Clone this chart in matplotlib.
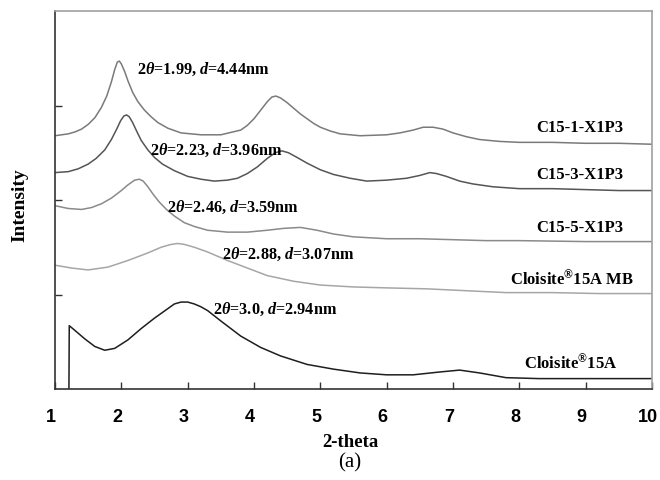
import matplotlib
matplotlib.use("Agg")
import matplotlib.pyplot as plt
import matplotlib.transforms as mtransforms

plt.rcParams['font.family'] = 'Liberation Serif'
plt.rcParams['font.weight'] = 'bold'
plt.rcParams['mathtext.fontset'] = 'custom'
plt.rcParams['mathtext.rm'] = 'Liberation Serif:bold'
plt.rcParams['mathtext.it'] = 'Liberation Serif:italic:bold'
plt.rcParams['mathtext.bf'] = 'Liberation Serif:bold'

# C15-1-X1P3
x1 = [1.0, 1.1, 1.2, 1.3, 1.4, 1.5, 1.6, 1.7, 1.78, 1.85, 1.9, 1.94, 1.97, 2.0, 2.05, 2.1,
      2.17, 2.25, 2.35, 2.45, 2.55, 2.7, 2.9, 3.2, 3.5, 3.8, 3.9, 4.0, 4.1, 4.2, 4.27, 4.33,
      4.4, 4.5, 4.6, 4.7, 4.8, 4.9, 5.0, 5.15, 5.3, 5.6, 6.0, 6.2, 6.4, 6.55, 6.7, 6.85,
      7.0, 7.2, 7.4, 7.7, 8.0, 8.5, 9.0, 9.5, 10.0]
y1 = [2.68, 2.69, 2.70, 2.72, 2.75, 2.80, 2.87, 2.98, 3.10, 3.25, 3.38, 3.46, 3.47, 3.44, 3.36, 3.26,
      3.14, 3.04, 2.95, 2.88, 2.82, 2.76, 2.71, 2.69, 2.69, 2.74, 2.79, 2.86, 2.95, 3.04, 3.09, 3.10,
      3.08, 3.03, 2.97, 2.91, 2.86, 2.81, 2.77, 2.73, 2.70, 2.68, 2.69, 2.71, 2.74, 2.77, 2.77, 2.75,
      2.71, 2.67, 2.64, 2.62, 2.61, 2.61, 2.60, 2.60, 2.59]

# C15-3-X1P3
x2 = [1.0, 1.2, 1.35, 1.5, 1.62, 1.75, 1.85, 1.93, 1.99, 2.04, 2.08, 2.12, 2.17, 2.23, 2.3, 2.4,
      2.5, 2.62, 2.8, 3.0, 3.2, 3.4, 3.6, 3.75, 3.9, 4.05, 4.2, 4.32, 4.42, 4.52, 4.65, 4.8,
      5.0, 5.2, 5.45, 5.7, 6.0, 6.3, 6.5, 6.65, 6.75, 6.9, 7.1, 7.3, 7.6, 8.0, 8.5, 9.0,
      9.5, 10.0]
y2 = [2.29, 2.30, 2.33, 2.38, 2.44, 2.53, 2.64, 2.75, 2.84, 2.89, 2.90, 2.88, 2.82, 2.73, 2.63, 2.53,
      2.45, 2.38, 2.31, 2.25, 2.22, 2.20, 2.21, 2.23, 2.28, 2.35, 2.44, 2.50, 2.52, 2.50, 2.45, 2.39,
      2.32, 2.27, 2.23, 2.20, 2.21, 2.23, 2.26, 2.29, 2.28, 2.25, 2.20, 2.17, 2.14, 2.12, 2.12, 2.11,
      2.10, 2.10]

# C15-5-X1P3
x3 = [1.0, 1.2, 1.4, 1.55, 1.7, 1.85, 2.0, 2.1, 2.2, 2.27, 2.33, 2.4, 2.48, 2.57, 2.68, 2.8,
      2.95, 3.1, 3.3, 3.6, 3.9, 4.2, 4.45, 4.7, 4.95, 5.2, 5.5, 6.0, 6.5, 7.0, 7.5, 8.0,
      9.0, 10.0]
y3 = [1.94, 1.91, 1.90, 1.92, 1.96, 2.02, 2.10, 2.16, 2.21, 2.22, 2.20, 2.14, 2.06, 1.98, 1.90, 1.83,
      1.76, 1.72, 1.68, 1.66, 1.66, 1.68, 1.70, 1.71, 1.68, 1.64, 1.61, 1.59, 1.59, 1.58, 1.57, 1.57,
      1.56, 1.56]

# Cloisite 15A MB
x4 = [1.0, 1.25, 1.5, 1.8, 2.1, 2.4, 2.6, 2.75, 2.85, 2.95, 3.1, 3.3, 3.6, 3.9, 4.2, 4.6,
      5.0, 5.5, 6.0, 6.6, 7.2, 7.8, 8.5, 9.2, 10.0]
y4 = [1.31, 1.28, 1.26, 1.29, 1.36, 1.44, 1.50, 1.53, 1.54, 1.53, 1.50, 1.45, 1.36, 1.28, 1.20, 1.14,
      1.10, 1.08, 1.07, 1.06, 1.04, 1.02, 1.02, 1.01, 1.01]

# Cloisite 15A
x5 = [1.21, 1.215, 1.3, 1.45, 1.6, 1.75, 1.9, 2.1, 2.3, 2.5, 2.7, 2.8, 2.9, 3.0, 3.1, 3.2,
      3.3, 3.5, 3.8, 4.1, 4.4, 4.8, 5.2, 5.6, 6.0, 6.4, 6.8, 7.1, 7.4, 7.8, 8.3, 9.0, 10.0]
y5 = [0.0, 0.67, 0.62, 0.53, 0.45, 0.41, 0.43, 0.52, 0.64, 0.75, 0.85, 0.90, 0.92, 0.92, 0.90, 0.87,
      0.83, 0.72, 0.56, 0.44, 0.35, 0.26, 0.21, 0.17, 0.15, 0.15, 0.18, 0.20, 0.17, 0.12, 0.11, 0.11, 0.11]

names = ['C15-1-X1P3', 'C15-3-X1P3', 'C15-5-X1P3', 'Cloisite$^{\u00ae}$15A MB', 'Cloisite$^{\u00ae}$15A']
peaks = ['2$\\theta$=1.99, $d$=4.44nm', '2$\\theta$=2.23, $d$=3.96nm', '2$\\theta$=2.46, $d$=3.59nm',
         '2$\\theta$=2.88, $d$=3.07nm', '2$\\theta$=3.0, $d$=2.94nm']

fig = plt.figure(figsize=(6.6, 4.81), dpi=100)
ax = fig.add_axes([55/660, 1-390/481, 597/660, 378/481])

ax.plot(x1, y1, color='#7a7a7a', lw=1.1)
ax.plot(x2, y2, color='#555555', lw=1.1)
ax.plot(x3, y3, color='#8a8a8a', lw=1.1)
ax.plot(x4, y4, color='#a6a6a6', lw=1.1)
ax.plot(x5, y5, color='#1e1e1e', lw=1.1)

# peak notes
fs = 11.7
ax.text(2.24, 3.39, peaks[0], fontsize=fs, va='center')
ax.text(2.43, 2.54, peaks[1], fontsize=fs, va='center')
ax.text(2.69, 1.93, peaks[2], fontsize=fs, va='center')
ax.text(3.52, 1.43, peaks[3], fontsize=fs, va='center')
ax.text(3.38, 0.85, peaks[4], fontsize=fs, va='center')

# sample names
ax.text(9.57, 2.77, names[0], fontsize=12, va='center', ha='right')
ax.text(9.57, 2.28, names[1], fontsize=12, va='center', ha='right')
ax.text(9.57, 1.71, names[2], fontsize=12, va='center', ha='right')
ax.text(9.73, 1.17, names[3], fontsize=12, va='center', ha='right')
ax.text(9.48, 0.29, names[4], fontsize=12, va='center', ha='right')

ax.set_xlim(1, 10)
ax.set_ylim(0, 4)
ax.set_xticks(range(1, 11))
ax.set_yticks([1, 2, 3])
ax.set_yticklabels([])
ax.tick_params(axis='x', direction='in', length=5, pad=14, width=1, color='#333333')
ax.tick_params(axis='y', direction='in', length=5, width=1, color='#333333')
shift = mtransforms.ScaledTranslation(-4/100, 0, fig.dpi_scale_trans)
for lab in ax.get_xticklabels():
    lab.set_fontfamily('Liberation Sans')
    lab.set_fontweight('bold')
    lab.set_fontsize(13)
    lab.set_transform(lab.get_transform() + shift)
ax.spines['left'].set_color('#333333')
ax.spines['bottom'].set_color('#333333')
ax.spines['top'].set_color('#a0a0a0')
ax.spines['right'].set_color('#a0a0a0')
for s in ax.spines.values():
    s.set_linewidth(1.2)

fig.text(350/660, 1-443/481, '2-theta', fontsize=13.5, ha='center', va='center')
fig.text(20/660, 1-205/481, 'Intensity', fontsize=14, ha='center', va='center', rotation=90)
fig.text(350/660, 1-463/481, '(a)', fontsize=15, ha='center', va='center', fontweight='normal')

fig.savefig('out.png', dpi=100)
